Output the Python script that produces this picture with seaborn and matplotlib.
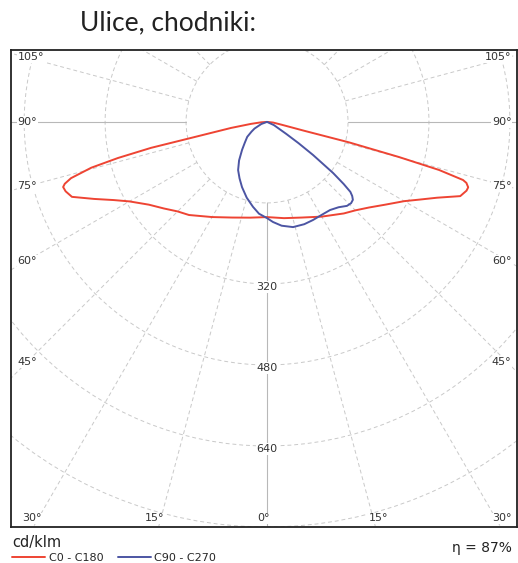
import numpy as np
import pandas as pd
import matplotlib.pyplot as plt
import seaborn as sns

# luminous intensity, gamma in degrees from nadir, values in cd/klm
c0_angle = [0, 10, 20, 30, 40, 45, 50, 55, 60, 63, 66, 69, 71, 72, 73, 73.5, 74.4, 75.1, 76, 76.6, 79, 84, 90]
c0_value = [188, 193, 201, 216, 236, 247, 263, 285, 313, 338, 368, 409, 417, 418, 412, 404, 353, 270, 167, 75, 30, 12, 0]
c180_angle = [0, 10, 20, 30, 40, 45, 50, 55, 60, 63, 66, 69, 71, 72.3, 73, 74, 75.4, 76.4, 77.4, 78.1, 80.5, 83, 86, 90]
c180_value = [188, 192, 201, 217, 240, 250, 266, 285, 314, 340, 374, 413, 421, 423, 418, 403, 359, 303, 235, 154, 72, 32, 12, 0]

c90_angle = [0, 3.4, 8, 13.9, 20, 25, 30, 35.6, 40, 43.6, 46, 47.8, 49, 50, 51, 52.3, 54.3, 56, 58, 65, 90]
c90_value = [190, 198, 207, 214, 215, 214, 213, 214, 220, 229, 231, 229, 223, 215, 195, 165, 112, 75, 45, 15, 0]
c270_angle = [0, 5, 9.4, 15, 21, 26, 31, 36, 41.8, 47, 53, 58, 62, 70, 90]
c270_value = [190, 182, 170, 155, 138, 124, 111, 94, 74, 60, 49, 36, 28, 12, 0]

circle_values = [160, 320, 480, 640, 800, 960, 1120]
radial_labels = [320, 480, 640]
side_angles = [105, 90, 75, 60, 45]
bottom_angles = [-30, -15, 0, 15, 30]
efficiency = 87

red = '#ee4433'
blue = '#4c55a3'
grid_col = '#c9c9c9'


def to_xy(left_angle, left_value, right_angle, right_value):
    g = np.radians(np.concatenate([-np.array(left_angle)[::-1], right_angle]))
    v = np.concatenate([np.array(left_value)[::-1], right_value])
    return pd.DataFrame({'x': v * np.sin(g), 'y': -v * np.cos(g)})


red_df = to_xy(c180_angle, c180_value, c0_angle, c0_value)
blue_df = to_xy(c270_angle, c270_value, c90_angle, c90_value)

sns.set_style('white')
plt.rcParams['font.family'] = ['DejaVu Sans']

fig = plt.figure(figsize=(5.18, 5.63), dpi=100)
ax = fig.add_axes([11 / 518, 36 / 563, 506 / 518, 477 / 563])
ax.set_xlim(-506, 494)
ax.set_ylim(-800, 142)
ax.set_xticks([])
ax.set_yticks([])
for sp in ax.spines.values():
    sp.set_color('#222222')
    sp.set_linewidth(1.3)

# grid: circles + spokes every 15 deg, starting from the first circle
for v in circle_values:
    ax.add_patch(plt.Circle((0, 0), v, fill=False, ec=grid_col, lw=0.7,
                            ls=(0, (4, 3)), zorder=1))
for a in range(0, 360, 15):
    t = np.radians(a)
    solid = a in (0, 90, 270)
    ax.plot([160 * np.sin(t), 1500 * np.sin(t)], [-160 * np.cos(t), -1500 * np.cos(t)],
            color='#b8b8b8' if solid else grid_col, lw=0.8 if solid else 0.7,
            ls='-' if solid else (0, (4, 3)), zorder=1)

sns.lineplot(data=red_df, x='x', y='y', sort=False, estimator=None, color=red,
             lw=1.4, ax=ax, label='C0 - C180', zorder=3)
sns.lineplot(data=blue_df, x='x', y='y', sort=False, estimator=None, color=blue,
             lw=1.4, ax=ax, label='C90 - C270', zorder=3)
handles, labels = ax.get_legend_handles_labels()
ax.get_legend().remove()
ax.set_xlabel('')
ax.set_ylabel('')

box = dict(facecolor='white', edgecolor='none', pad=0.6)
for v in radial_labels:
    ax.text(0, -v - 6, str(v), ha='center', va='center', fontsize=8,
            color='#333333', bbox=box, zorder=4)

for a in side_angles:
    y = -475 / np.tan(np.radians(a)) if a != 90 else 0
    ax.text(-493, y, f'{a}°', ha='left', va='center', fontsize=8, color='#333333',
            bbox=box, zorder=4)
    ax.text(483, y, f'{a}°', ha='right', va='center', fontsize=8, color='#333333',
            bbox=box, zorder=4)

for a in bottom_angles:
    x = 783 * np.tan(np.radians(a))
    if a < 0:
        ax.text(x + 6, -783, f'{abs(a)}°', ha='right', va='center', fontsize=8,
                color='#333333', bbox=box, zorder=4)
    elif a > 0:
        ax.text(x - 8, -783, f'{a}°', ha='left', va='center', fontsize=8,
                color='#333333', bbox=box, zorder=4)
    else:
        ax.text(-6, -783, '0°', ha='center', va='center', fontsize=8,
                color='#333333', bbox=box, zorder=4)

fig.text(168 / 518, 1 - 23 / 563, 'Ulice, chodniki:', ha='center', va='center',
         fontsize=19, family='Lato', color='#222222')

fig.text(12 / 518, 1 - 542 / 563, 'cd/klm', ha='left', va='center',
         fontsize=10.5, color='#222222')
fig.legend(handles, labels, loc='center left', bbox_to_anchor=(12 / 518, 1 - 558 / 563),
           ncol=2, frameon=False, fontsize=8, handlelength=3, handletextpad=0.3,
           columnspacing=1.3, borderpad=0, borderaxespad=0)

fig.text(0.988, 1 - 548 / 563, f'η = {efficiency}%', ha='right', va='center',
         fontsize=10, color='#222222')

fig.savefig('out.png', dpi=100)
